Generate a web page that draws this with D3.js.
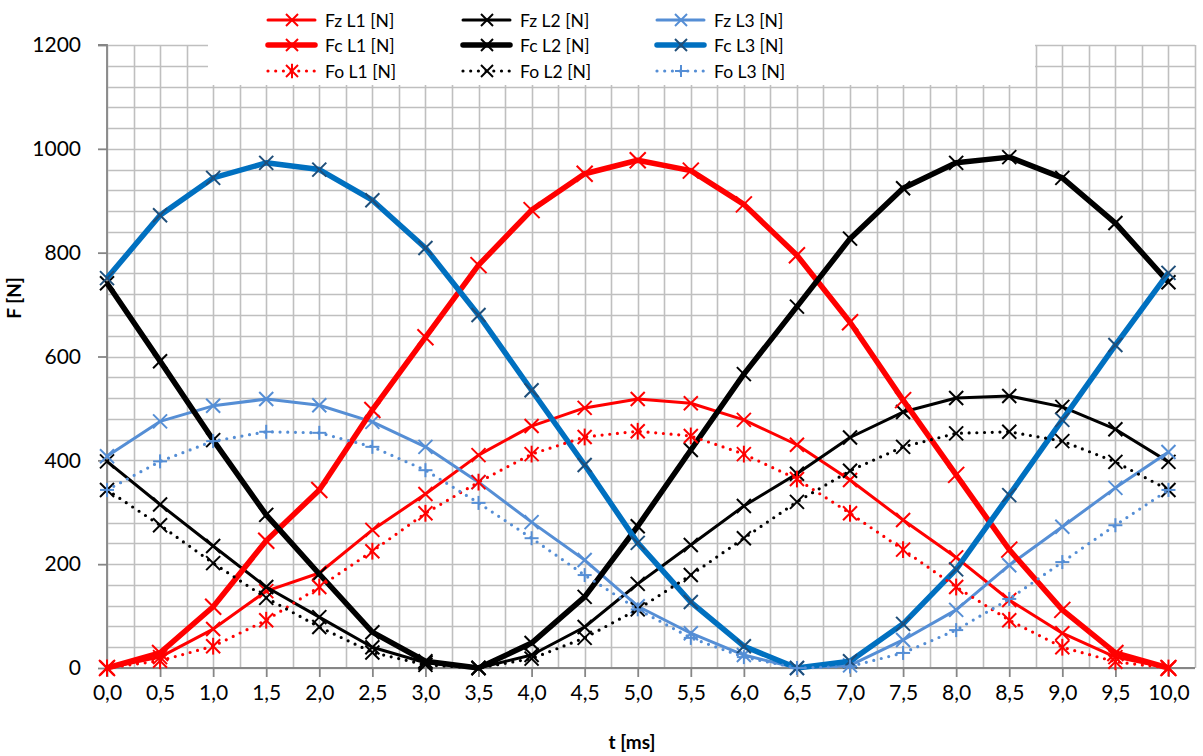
<!DOCTYPE html>
<html><head><meta charset="utf-8">
<script src="https://cdn.jsdelivr.net/npm/d3@7"></script>
<style>html,body{margin:0;padding:0;background:#fff;}svg{display:block;}</style>
</head><body>
<svg id="c" width="1203" height="756"></svg>
<script>
const times = [0,0.5,1,1.5,2,2.5,3,3.5,4,4.5,5,5.5,6,6.5,7,7.5,8,8.5,9,9.5,10];
const xTicks = [0,0.5,1,1.5,2,2.5,3,3.5,4,4.5,5,5.5,6,6.5,7,7.5,8,8.5,9,9.5,10];
const yTicks = [0,200,400,600,800,1000,1200];

const fzL1 = [0,21,75,148,183,266,335,410,466,501,518,510,478,430,362,285,213,131,67,21,0];
const fcL1 = [0,29,118,245,343,497,637,776,882,952,978,958,893,795,666,516,372,228,112,29,0];
const foL1 = [0,14,42,92,156,225,298,358,412,445,456,447,412,364,298,228,156,92,40,12,0];
const fzL2 = [398,315,235,156,98,40,10,0,25,79,162,237,312,374,444,493,520,524,503,460,397];
const fcL2 = [741,591,439,295,181,69,13,0,48,137,273,420,566,696,827,924,973,984,944,857,743];
const foL2 = [343,275,202,135,79,30,6,0,18,58,113,179,250,320,380,426,452,455,437,397,343];
const fzL3 = [408,475,505,518,506,474,426,358,281,208,119,67,25,0,5,54,112,198,272,347,416];
const fcL3 = [751,872,944,973,960,901,809,680,535,391,241,127,42,0,13,85,190,333,478,622,761];
const foL3 = [343,398,437,455,453,426,381,318,250,179,113,58,21,0,3,29,73,133,204,275,343];

const seriesNames = ["Fz L1 [N]","Fz L2 [N]","Fz L3 [N]","Fc L1 [N]","Fc L2 [N]","Fc L3 [N]","Fo L1 [N]","Fo L2 [N]","Fo L3 [N]"];
const seriesData = [fzL1,fzL2,fzL3,fcL1,fcL2,fcL3,foL1,foL2,foL3];

const RED="#FF0000", BLK="#000000", LBL="#558ED5", DBL="#0070C0", NAVY="#1F4E79";
const styles = [
  {c:RED,w:3,dash:null,m:"x",mc:RED,ms:7},
  {c:BLK,w:3,dash:null,m:"x",mc:BLK,ms:7},
  {c:LBL,w:3,dash:null,m:"x",mc:LBL,ms:7},
  {c:RED,w:5.5,dash:null,m:"x",mc:RED,ms:8},
  {c:BLK,w:5.5,dash:null,m:"x",mc:BLK,ms:7},
  {c:DBL,w:5.5,dash:null,m:"x",mc:NAVY,ms:7},
  {c:RED,w:3.2,dash:"0,7.7",m:"star",mc:RED,ms:7},
  {c:BLK,w:3.2,dash:"0,7.7",m:"x",mc:BLK,ms:7},
  {c:LBL,w:3.2,dash:"0,7.7",m:"plus",mc:LBL,ms:7}
];

const svg = d3.select("#c");
const x = d3.scaleLinear().domain([0,10.25]).range([107,1195]);
const y = d3.scaleLinear().domain([0,1200]).range([668,45]);
const FONT = "Lato, 'Open Sans', sans-serif";

// grid
const g = svg.append("g");
const vg = d3.range(0, 10.25+0.001, 0.25);
const hg = d3.range(0, 1200+0.001, 40);
g.selectAll("line.v").data(vg).join("line")
  .attr("x1",d=>Math.round(x(d))+0.5).attr("x2",d=>Math.round(x(d))+0.5)
  .attr("y1",y(0)).attr("y2",y(1200))
  .attr("stroke","#BFBFBF").attr("stroke-width",1.6);
g.selectAll("line.h").data(hg).join("line")
  .attr("y1",d=>Math.round(y(d))+0.5).attr("y2",d=>Math.round(y(d))+0.5)
  .attr("x1",x(0)).attr("x2",x(10.25))
  .attr("stroke","#BFBFBF").attr("stroke-width",1.6);

// axes
const yAxis = d3.axisLeft(y).tickValues(yTicks).tickSize(9).tickPadding(17).tickFormat(d3.format("d"));
const ya = svg.append("g").attr("transform",`translate(${x(0)},0)`).call(yAxis);
const xAxis = d3.axisBottom(x).tickValues(xTicks).tickSize(9).tickPadding(8)
  .tickFormat(d=>d3.format(".1f")(d).replace(".",","));
const xa = svg.append("g").attr("transform",`translate(0,${y(0)})`).call(xAxis);
[ya,xa].forEach(a=>{
  a.select(".domain").attr("stroke","#868686").attr("stroke-width",1.8);
  a.selectAll(".tick line").attr("stroke","#868686").attr("stroke-width",1.8);
  a.selectAll("text").attr("font-family",FONT).attr("font-size",21).attr("fill","#000");
});
ya.select(".domain").attr("d",`M-9,${y(1200)}H0V${y(0)}`);
xa.select(".domain").attr("d",`M${x(0)},9V0H${x(10.25)}`);

// series
const line = d3.line().x((d,i)=>x(times[i])).y(d=>y(d));
function marker(sel, type, s, color, sw){
  if(type==="x"||type==="star"){
    sel.append("line").attr("x1",-s).attr("y1",-s).attr("x2",s).attr("y2",s);
    sel.append("line").attr("x1",-s).attr("y1",s).attr("x2",s).attr("y2",-s);
  }
  if(type==="star"){
    sel.append("line").attr("x1",0).attr("y1",-s*1.2).attr("x2",0).attr("y2",s*1.2);
  }
  if(type==="plus"){
    sel.append("line").attr("x1",-s).attr("y1",0).attr("x2",s).attr("y2",0);
    sel.append("line").attr("x1",0).attr("y1",-s).attr("x2",0).attr("y2",s);
  }
  sel.selectAll("line").attr("stroke",color).attr("stroke-width",sw);
}
const sg = svg.append("g");
seriesData.forEach((data,k)=>{
  const st = styles[k];
  const p = sg.append("path").datum(data).attr("d",line)
    .attr("fill","none").attr("stroke",st.c).attr("stroke-width",st.w)
    .attr("stroke-linejoin","round");
  if(st.dash){p.attr("stroke-dasharray",st.dash).attr("stroke-linecap","round");}
  const mg = sg.append("g");
  data.forEach((v,i)=>{
    const m = mg.append("g").attr("transform",`translate(${x(times[i])},${y(v)})`);
    marker(m, st.m, st.ms, st.mc, 2);
  });
});

// legend
svg.append("rect").attr("x",208).attr("y",0).attr("width",827).attr("height",85).attr("fill","#fff");
const colX = [268,463,657];
const rowY = [20,45,71];
seriesNames.forEach((name,k)=>{
  const col = k%3, row = Math.floor(k/3);
  const st = styles[k];
  const lg = svg.append("g").attr("transform",`translate(${colX[col]},${rowY[row]})`);
  const l = lg.append("line").attr("x1",0).attr("x2",47).attr("y1",0).attr("y2",0)
    .attr("stroke",st.c).attr("stroke-width",st.w).attr("stroke-linecap","round");
  if(st.dash){l.attr("stroke-dasharray",st.dash);}
  const m = lg.append("g").attr("transform","translate(24,0)");
  marker(m, st.m, 6, st.mc, 2);
  lg.append("text").attr("x",57).attr("y",6.5).text(name)
    .attr("font-family",FONT).attr("font-size",17.5).attr("fill","#000");
});

// axis titles
svg.append("text").attr("x",632).attr("y",749).attr("text-anchor","middle")
  .attr("font-family",FONT).attr("font-size",19).attr("font-weight","bold").text("t [ms]");
svg.append("text").attr("transform","translate(21,298) rotate(-90)").attr("text-anchor","middle")
  .attr("font-family",FONT).attr("font-size",19).attr("font-weight","bold").text("F [N]");
</script>
</body></html>
